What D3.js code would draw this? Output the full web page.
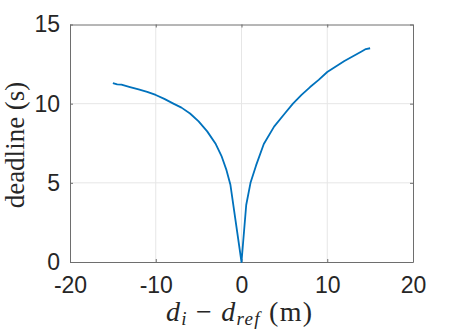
<!DOCTYPE html>
<html>
<head>
<meta charset="utf-8">
<script src="https://cdn.jsdelivr.net/npm/d3@7"></script>
<style>
  body { margin: 0; background: #fff; }
  .tick text { font-family: "Liberation Sans", Arial, sans-serif; fill: #262626; }
</style>
</head>
<body>
<svg id="mainsvg" width="457" height="334"></svg>
<script>
// distance difference (m) and deadline (s)
const xs = [-15, -14.5, -14, -13, -12, -11, -10, -9, -8, -7, -6, -5, -4, -3, -2.3, -1.75, -1.3, 0,
            0.55, 1.05, 1.7, 2.6, 3.8, 5, 6, 7, 8, 9, 10, 11, 12, 13, 14, 14.5, 15]
const ys = [11.3, 11.22, 11.2, 11.05, 10.9, 10.75, 10.55, 10.3, 10.02, 9.75, 9.38, 8.88, 8.25, 7.45, 6.65, 5.8, 4.9, 0,
            3.6, 5.0, 6.1, 7.45, 8.55, 9.35, 10.0, 10.55, 11.05, 11.5, 12.0, 12.35, 12.7, 13.0, 13.3, 13.45, 13.5]
const xTicks = [-20, -10, 0, 10, 20]
const yTicks = [0, 5, 10, 15]

const data = xs.map((x, i) => ({ x: x, y: ys[i] }))

const svg = d3.select('#mainsvg')
const margin = { top: 24.5, right: 44, bottom: 72, left: 70 }
const width = +svg.attr("width")
const height = +svg.attr("height")
const innerWidth = width - margin.left - margin.right
const innerHeight = height - margin.top - margin.bottom

const xScale = d3.scaleLinear().domain([-20, 20]).range([0, innerWidth])
const yScale = d3.scaleLinear().domain([0, 15]).range([innerHeight, 0])

const g = svg.append('g')
  .attr("transform", `translate(${margin.left}, ${margin.top})`)

// grid
g.append("g").selectAll("line").data(xTicks.slice(1, -1)).join("line")
  .attr("x1", d => xScale(d)).attr("x2", d => xScale(d))
  .attr("y1", 0).attr("y2", innerHeight)
  .attr("stroke", "#e6e6e6").attr("stroke-width", 1)
g.append("g").selectAll("line").data(yTicks.slice(1, -1)).join("line")
  .attr("y1", d => yScale(d)).attr("y2", d => yScale(d))
  .attr("x1", 0).attr("x2", innerWidth)
  .attr("stroke", "#e6e6e6").attr("stroke-width", 1)

// axes, ticks pointing inward like matlab
const xAxis = d3.axisBottom(xScale).tickValues(xTicks).tickSizeInner(-3).tickSizeOuter(0).tickPadding(15)
const yAxis = d3.axisLeft(yScale).tickValues(yTicks).tickSizeInner(-3).tickSizeOuter(0).tickPadding(10)
g.append("g").attr("transform", `translate(0, ${innerHeight})`).call(xAxis)
g.append("g").call(yAxis)
const topAxis = g.append("g").call(d3.axisTop(xScale).tickValues(xTicks).tickSizeInner(-3).tickSizeOuter(0))
const rightAxis = g.append("g").attr("transform", `translate(${innerWidth}, 0)`)
  .call(d3.axisRight(yScale).tickValues(yTicks).tickSizeInner(-3).tickSizeOuter(0))
topAxis.selectAll("text").remove()
rightAxis.selectAll("text").remove()

g.selectAll(".domain, .tick line").attr("stroke", "#6e6e6e")
g.selectAll(".tick text").attr("font-size", "23px")
  .text(function () { return d3.select(this).text().replace("−", "-") })

// curve
const line = d3.line().x(d => xScale(d.x)).y(d => yScale(d.y))
g.append("path").datum(data)
  .attr("d", line)
  .attr("fill", "none")
  .attr("stroke", "#0072BD")
  .attr("stroke-width", 1.8)
  .attr("stroke-linejoin", "round")

// labels
const serif = '"Liberation Serif", "DejaVu Serif", serif'
svg.append("text")
  .attr("transform", `translate(24, 145) rotate(-90)`)
  .attr("text-anchor", "middle")
  .attr("font-family", serif).attr("font-size", "27px").attr("fill", "#262626")
  .text("deadline (s)")

const xl = svg.append("text")
  .attr("x", 239).attr("y", 321)
  .attr("text-anchor", "middle")
  .attr("textLength", 146).attr("lengthAdjust", "spacing")
  .attr("font-family", serif).attr("font-size", "28px").attr("fill", "#262626")
xl.append("tspan").attr("font-style", "italic").text("d")
xl.append("tspan").attr("font-style", "italic").attr("font-size", "19px").attr("dy", 4).text("i")
xl.append("tspan").attr("dy", -4).text(" − ")
xl.append("tspan").attr("font-style", "italic").text("d")
xl.append("tspan").attr("font-style", "italic").attr("font-size", "19px").attr("dy", 4).text("ref")
xl.append("tspan").attr("dy", -4).text("  (m)")
</script>
</body>
</html>
